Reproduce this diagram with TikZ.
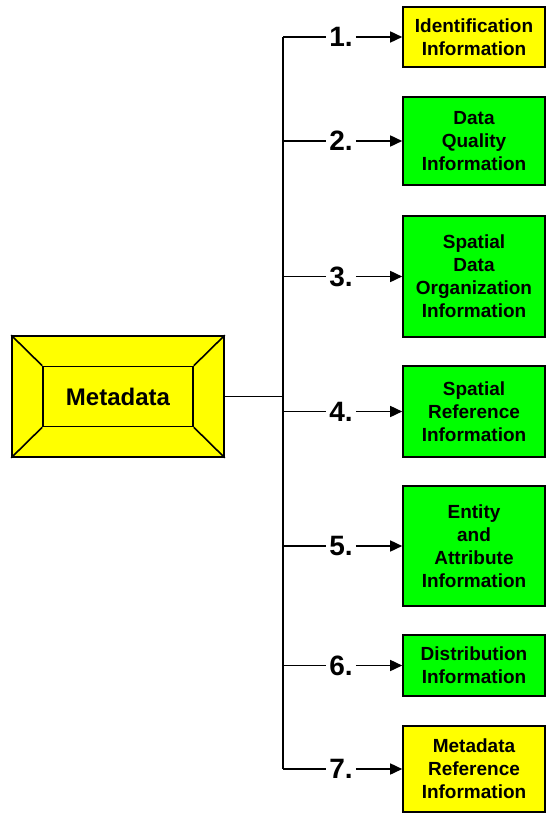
\documentclass[tikz,border=0pt]{standalone}
\usepackage{fontspec}
\setmainfont{Liberation Sans}
\usepackage{tikz}
\usetikzlibrary{arrows.meta}
\tikzstyle{chart} = [x = 1pt, y = -1pt]
\definecolor{boxYellow}{RGB}{255,255,0}
\definecolor{boxGreen}{RGB}{0,255,0}
\tikzstyle{busLine} = [color=black, line width=1.6pt]
\tikzstyle{branchArrow} = [busLine, -{Triangle[length=12pt, width=11pt]}]
\tikzstyle{infoBox} = [draw=black, line width=1.6pt, minimum width=142pt, inner sep=0pt, align=center, font=\fontsize{19}{23}\selectfont\bfseries]
\tikzstyle{numberText} = [inner sep=3pt, font=\fontsize{28}{28}\selectfont\bfseries]
\tikzstyle{metaOuter} = [draw=black, fill=boxYellow, line width=1.6pt, minimum width=212pt, minimum height=121pt]
\tikzstyle{metaInner} = [draw=black, line width=1.6pt, minimum width=150pt, minimum height=60pt, font=\fontsize{24}{24}\selectfont\bfseries]
\newcommand{\infoBranch}[5]{
  \coordinate (bus#1) at (283,#2);
  \node [infoBox, fill=#4, minimum height=#3] (info#1) at (474,#2) {#5};
  \node [numberText] (num#1) at (341,#2) {#1.};
  \draw [busLine] (bus#1) -- (num#1);
  \draw [branchArrow] (num#1) -- (info#1);
}
\begin{document}
\begin{tikzpicture}[chart]
  \useasboundingbox (0,0) rectangle (547,813);
  % metadata box
  \node [metaOuter] (metaOut) at (118,396.5) {};
  \node [metaInner] (metaIn) at (118,396.5) {Metadata};
  \foreach \corner in {north west, north east, south west, south east} {
    \draw [busLine] (metaOut.\corner) -- (metaIn.\corner);
  }
  % branches
  \infoBranch{1}{37}{60pt}{boxYellow}{Identification\\Information}
  \infoBranch{2}{141}{88pt}{boxGreen}{Data\\Quality\\Information}
  \infoBranch{3}{276.5}{121pt}{boxGreen}{Spatial\\Data\\Organization\\Information}
  \infoBranch{4}{411.5}{91pt}{boxGreen}{Spatial\\Reference\\Information}
  \infoBranch{5}{546}{120pt}{boxGreen}{Entity\\and\\Attribute\\Information}
  \infoBranch{6}{665.5}{61pt}{boxGreen}{Distribution\\Information}
  \infoBranch{7}{769}{86pt}{boxYellow}{Metadata\\Reference\\Information}
  \coordinate (hub) at (283,396.5);
  \draw [busLine] (bus1) -- (bus7);
  \draw [busLine] (metaOut.east) -- (hub);
\end{tikzpicture}
\end{document}
